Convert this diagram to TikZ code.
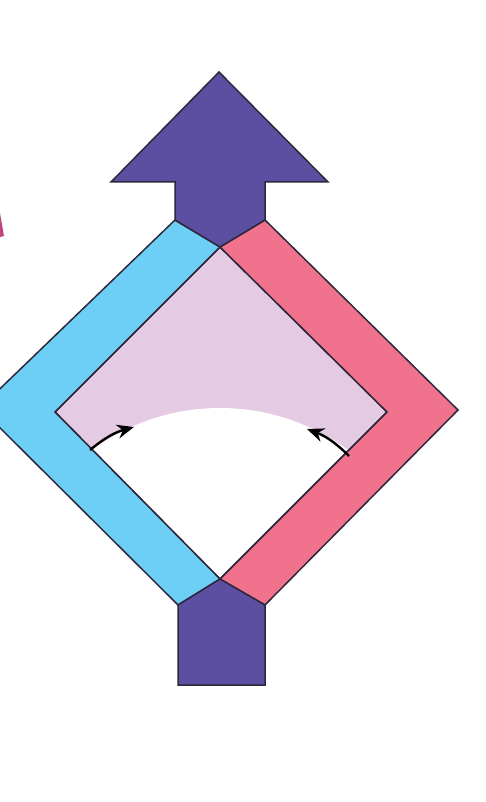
\documentclass[tikz,border=0pt]{standalone}
\usetikzlibrary{arrows.meta}
\definecolor{purp}{RGB}{92,78,160}
\definecolor{bluec}{RGB}{110,207,246}
\definecolor{pinkc}{RGB}{240,114,140}
\definecolor{lilac}{RGB}{228,202,226}
\definecolor{edgec}{RGB}{45,40,60}
\definecolor{frag}{RGB}{190,70,125}
\tikzset{
  part/.style={draw=edgec, line width=1.5pt, line join=miter},
  turn/.style={draw=black, line width=2.4pt, -{Stealth[length=17pt,width=14pt]}}
}
\begin{document}
\begin{tikzpicture}[x=1pt,y=-1pt]
\useasboundingbox (0,0) rectangle (486,802);
% coordinates
\coordinate (T) at (220,247);
\coordinate (B) at (220,579);
\coordinate (IL) at (55,412);
\coordinate (IR) at (387,412);
% fragment at left
\fill[frag] (0,213) -- (4,236) -- (0,237) -- cycle;
% inner lilac and white area
\fill[lilac] (T) -- (IR) -- (B) -- (IL) -- cycle;
\begin{scope}
  \clip (T) -- (IR) -- (B) -- (IL) -- cycle;
  \fill[white] (220,624) circle (216);
\end{scope}
\draw[part] (T) -- (IR) -- (B) -- (IL) -- cycle;
% blue band
\draw[part, fill=bluec] (175,220) -- (T) -- (IL) -- (B) -- (178,605) -- (-20,408) -- cycle;
% pink band
\draw[part, fill=pinkc] (265,220) -- (T) -- (IR) -- (B) -- (265,605) -- (458,410) -- cycle;
% top arrow
\draw[part, fill=purp] (T) -- (175,220) -- (175,182) -- (111,182) -- (219,72) -- (328,182) -- (265,182) -- (265,220) -- cycle;
% bottom arrow
\draw[part, fill=purp] (B) -- (265,605) -- (265,685) -- (178,685) -- (178,605) -- cycle;
% curved arrows
\coordinate (la) at (90,450);
\coordinate (lb) at (134,427);
\coordinate (ra) at (349,456);
\coordinate (rb) at (307,429);
\draw[turn] (la) to[bend left=12] (lb);
\draw[turn] (ra) to[bend right=12] (rb);
\end{tikzpicture}
\end{document}
